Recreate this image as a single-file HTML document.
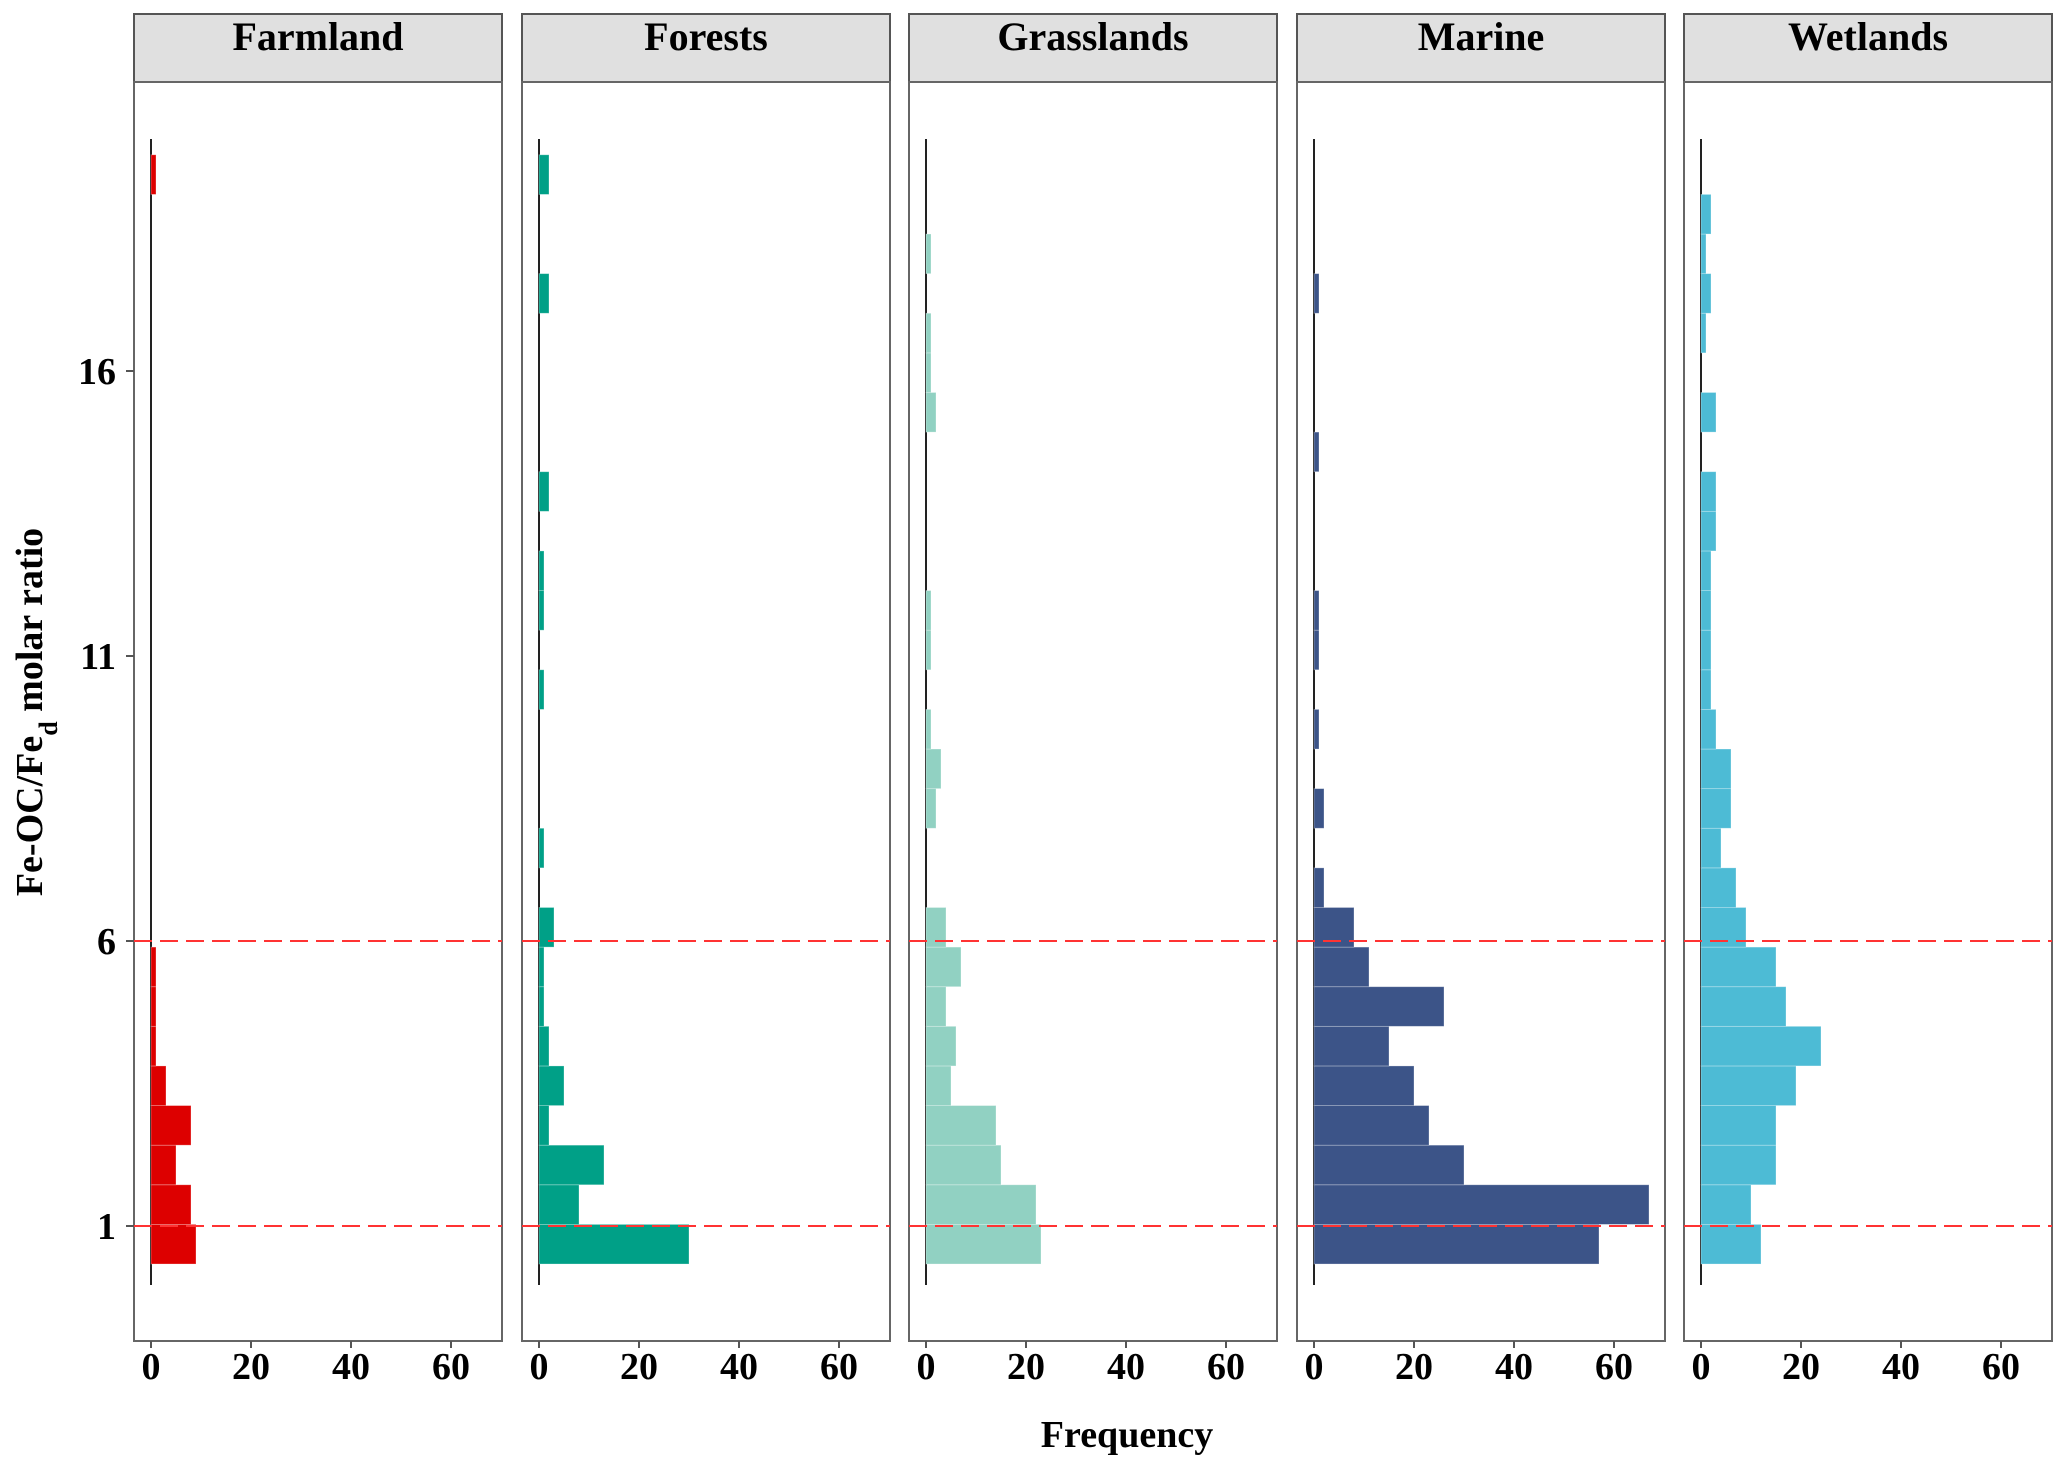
<!DOCTYPE html>
<html><head><meta charset="utf-8"><style>
html,body{margin:0;padding:0;background:#fff;}
svg{display:block;}
text{font-family:"Liberation Serif",serif;font-weight:bold;fill:#000;}
</style></head><body>
<svg id="chart" width="2067" height="1470" xmlns="http://www.w3.org/2000/svg"></svg>
<script>
const facets = ["Farmland","Forests","Grasslands","Marine","Wetlands"];
const colors = ["#dd0000","#00a087","#91d1c2","#3c5488","#4dbbd5"];
const farmlandCounts = [9,8,5,8,3,1,1,1,0,0,0,0,0,0,0,0,0,0,0,0,0,0,0,0,0,0,0,1];
const forestsCounts = [30,8,13,2,5,2,1,1,3,0,1,0,0,0,1,0,1,1,0,2,0,0,0,0,2,0,0,2];
const grasslandsCounts = [23,22,15,14,5,6,4,7,4,0,0,2,3,1,0,1,1,0,0,0,0,2,1,1,0,1,0,0];
const marineCounts = [57,67,30,23,20,15,26,11,8,2,0,2,0,1,0,1,1,0,0,0,1,0,0,0,1,0,0,0];
const wetlandsCounts = [12,10,15,15,19,24,17,15,9,7,4,6,6,3,2,2,2,2,3,3,0,3,0,1,2,1,2,0];
const binStart = 0.333;
const binWidth = 0.695;
const yTicks = [1,6,11,16];
const xTicks = [0,20,40,60];
const refLines = [1,6];

const allCounts = [farmlandCounts,forestsCounts,grasslandsCounts,marineCounts,wetlandsCounts];
const NS = "http://www.w3.org/2000/svg";
const svg = document.getElementById("chart");
function mk(tag, attrs, parent){const e=document.createElementNS(NS,tag);for(const k in attrs)e.setAttribute(k,attrs[k]);(parent||svg).appendChild(e);return e;}

const panelLefts = [134,522,909,1297,1684];
const panelW = 368, stripTop = 14, panelTop = 82, panelBottom = 1341;
function yScale(v){return 1226 - (v-1)*57;}
function xScale(L,v){return L + 17 + v*5;}

facets.forEach((name,i)=>{
  const L = panelLefts[i];
  const g = mk("g",{});
  
  
  const strip = mk("rect",{x:L,y:stripTop,width:panelW,height:panelTop-stripTop,fill:"#e0e0e0",stroke:"#555","stroke-width":2},g);
  
  
  const st = mk("text",{x:L+panelW/2,y:50,"text-anchor":"middle","font-size":40},g);
  st.textContent = name;
  
  
  const bg = mk("rect",{x:L,y:panelTop,width:panelW,height:panelBottom-panelTop,fill:"#fff",stroke:"#666","stroke-width":2},g);
  
  
  // zero line
  const zl = mk("line",{x1:xScale(L,0),x2:xScale(L,0),y1:yScale(20.07),y2:yScale(-0.035),stroke:"#222","stroke-width":2},g);
  
  
  // bars
  allCounts[i].forEach((c,k)=>{
    if(c<=0) return;
    const y0 = binStart + k*binWidth, y1 = y0 + binWidth;
    const r = mk("rect",{x:xScale(L,0),y:yScale(y1),width:xScale(L,c)-xScale(L,0),height:yScale(y0)-yScale(y1),fill:colors[i],stroke:"rgba(255,255,255,0.35)","stroke-width":0.8},g);
    
    
  });
  // reference lines
  refLines.forEach(v=>{
    const dl = mk("line",{x1:L,x2:L+panelW,y1:yScale(v),y2:yScale(v),stroke:"#ff3333","stroke-width":2,"stroke-dasharray":"18,8"},g);
    
    
  });
  // x ticks
  xTicks.forEach(t=>{
    const x = xScale(L,t);
    const tl = mk("line",{x1:x,x2:x,y1:panelBottom,y2:panelBottom+7,stroke:"#555","stroke-width":2},g);
    
    
    const tx = mk("text",{x:x,y:1379,"text-anchor":"middle","font-size":38},g);
    tx.textContent = t;
    
    
  });
});
// y ticks
yTicks.forEach(t=>{
  const y = yScale(t);
  const tl = mk("line",{x1:126,x2:134,y1:y,y2:y,stroke:"#555","stroke-width":2});
  
  
  const tx = mk("text",{x:116,y:y+13,"text-anchor":"end","font-size":38});
  tx.textContent = t;
  
  
});
const xt = mk("text",{x:1127,y:1447,"text-anchor":"middle","font-size":38});
xt.textContent = "Frequency";


const yt = mk("text",{x:0,y:0,"text-anchor":"middle","font-size":38,transform:"translate(42,712) rotate(-90)"});


const t1 = mk("tspan",{},yt); t1.textContent = "Fe-OC/Fe";
const t2 = mk("tspan",{"baseline-shift":"sub","font-size":26},yt); t2.textContent = "d";
const t3 = mk("tspan",{},yt); t3.textContent = " molar ratio";
</script>
</body></html>
